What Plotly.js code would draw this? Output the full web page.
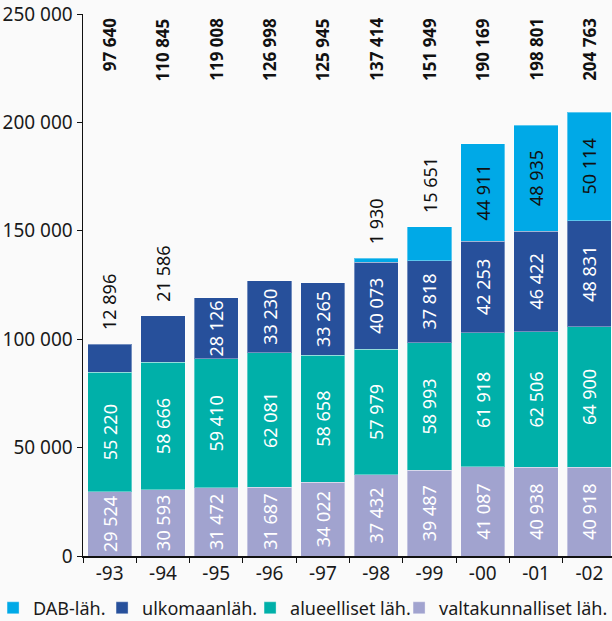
<!DOCTYPE html>
<html>
<head>
<meta charset="utf-8">
<script src="https://cdn.plot.ly/plotly-3.0.1.min.js"></script>
<style>html,body{margin:0;padding:0;background:#fafafa;}#chart{width:612px;height:621px;}</style>
</head>
<body>
<div id="chart"></div>
<script>
var years = ['-93','-94','-95','-96','-97','-98','-99','-00','-01','-02'];
var valtakunnalliset = [29524,30593,31472,31687,34022,37432,39487,41087,40938,40918];
var alueelliset = [55220,58666,59410,62081,58658,57979,58993,61918,62506,64900];
var ulkomaan = [12896,21586,28126,33230,33265,40073,37818,42253,46422,48831];
var dab = [null,null,null,null,null,1930,15651,44911,48935,50114];
var totals = [97640,110845,119008,126998,125945,137414,151949,190169,198801,204763];
var seriesNames = ['valtakunnalliset läh.','alueelliset läh.','ulkomaanläh.','DAB-läh.'];
var colors = ['#a1a3cf','#00b0a9','#27509b','#00a9e7'];
var outsideUlko = [true,true,false,false,false,false,false,false,false,false];
var outsideDab = [false,false,false,false,false,true,true,false,false,false];

function fmt(v){ return String(v).replace(/\B(?=(\d{3})+(?!\d))/g,' '); }

var FONT = 'Noto Sans, Open Sans, sans-serif';
var legendWidths = [164, 104, 103, 64];
var series = [valtakunnalliset, alueelliset, ulkomaan, dab];
var traces = series.map(function(vals, i){
  var txt = vals.map(function(v, j){
    if (v === null) return '';
    if (i === 2 && outsideUlko[j]) return '';
    if (i === 3 && outsideDab[j]) return '';
    return fmt(v);
  });
  return {
    type: 'bar', name: seriesNames[i], x: years, y: vals,
    marker: {color: colors[i], line: {color: 'rgba(255,255,255,0.35)', width: 1}},
    text: txt, textposition: 'inside', insidetextanchor: 'middle', textangle: -90,
    insidetextfont: {family: FONT, size: 18, color: i === 3 ? '#111' : '#ffffff'},
    constraintext: 'none', hoverinfo: 'none', legendwidth: legendWidths[i]
  };
});

var annotations = [];
years.forEach(function(y, j){
  annotations.push({x: j, y: 250000, xref: 'x', yref: 'y', text: fmt(totals[j]), showarrow: false,
    textangle: -90, yanchor: 'top', xanchor: 'center', yshift: -2,
    font: {family: FONT, size: 17, color: '#111', weight: 'bold'}});
  if (outsideUlko[j]) {
    annotations.push({x: j, y: valtakunnalliset[j] + alueelliset[j] + ulkomaan[j], xref: 'x', yref: 'y',
      text: fmt(ulkomaan[j]), showarrow: false, textangle: -90, yanchor: 'bottom', xanchor: 'center', yshift: 12,
      font: {family: FONT, size: 18, color: '#111'}});
  }
  if (outsideDab[j]) {
    annotations.push({x: j, y: valtakunnalliset[j] + alueelliset[j] + ulkomaan[j] + dab[j], xref: 'x', yref: 'y',
      text: fmt(dab[j]), showarrow: false, textangle: -90, yanchor: 'bottom', xanchor: 'center', yshift: 12,
      font: {family: FONT, size: 18, color: '#111'}});
  }
});

var layout = {
  width: 612, height: 621,
  margin: {l: 83, r: 0, t: 14, b: 65, autoexpand: false},
  paper_bgcolor: '#fafafa', plot_bgcolor: '#fafafa',
  barmode: 'stack', bargap: 0.17,
  separators: ', ',
  font: {family: FONT, color: '#1a1a1a'},
  showlegend: true,
  legend: {orientation: 'h', x: -0.170, xanchor: 'left', y: -0.062, yanchor: 'top',
    traceorder: 'reversed', font: {family: FONT, size: 18, color: '#1a1a1a'}, bgcolor: 'rgba(0,0,0,0)'},
  xaxis: {type: 'category', range: [-0.5, 9.425], showline: true, linecolor: '#111', linewidth: 1.5,
    ticks: 'outside', tickson: 'boundaries', ticklen: 5, tickcolor: '#111', tickwidth: 1,
    tickfont: {family: FONT, size: 19, color: '#1a1a1a'}, showgrid: false, fixedrange: true},
  yaxis: {range: [0, 250000], tickvals: [0,50000,100000,150000,200000,250000], tickformat: ',d',
    showline: true, linecolor: '#111', linewidth: 1.5, ticks: 'outside', ticklen: 5, tickcolor: '#111',
    tickfont: {family: FONT, size: 19, color: '#1a1a1a'}, showgrid: false, zeroline: false, fixedrange: true},
  annotations: annotations
};

Plotly.newPlot('chart', traces, layout, {displayModeBar: false, staticPlot: true});
</script>
</body>
</html>
